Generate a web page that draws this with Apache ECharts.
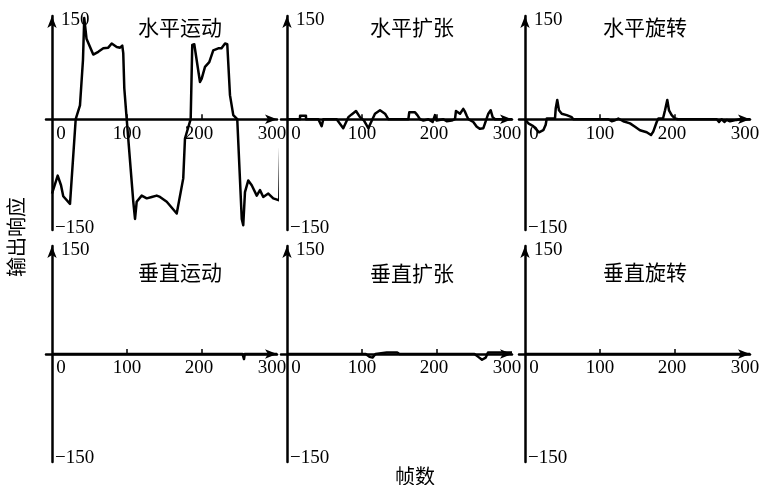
<!DOCTYPE html>
<html>
<head>
<meta charset="utf-8">
<script src="https://cdn.jsdelivr.net/npm/echarts@6/dist/echarts.min.js"></script>
<style>
html,body{margin:0;padding:0;background:#fff;}
#chart{width:772px;height:485px;}
</style>
</head>
<body>
<div id="chart"></div>
<script>
// Panel titles (row-major: top row horizontal, bottom row vertical)
const panelTitles = ['水平运动', '水平扩张', '水平旋转', '垂直运动', '垂直扩张', '垂直旋转'];
const yAxisName = '输出响应';
const xAxisName = '帧数';
const xTickLabels = [0, 100, 200, 300];
const xTickMarks = [100, 200];
const yTickLabels = [-150, 150];

// 水平运动
const hMoveFrames = [0, 7.6, 12, 15, 24, 31.6, 37.3, 41.3, 43, 46, 55, 61.7, 68.4, 75, 79.6, 86.3, 90.7, 93.7, 95, 96.4, 99.6,
  108.4, 110.7, 112.9, 119.6, 126.3, 133, 139.6, 144, 153, 166.3, 175, 177.3, 184.9, 187, 189.7, 197.3, 199.6, 204, 209.7,
  215, 221.7, 226, 230.7, 233.7, 237.3, 241.7, 247, 253, 255, 257.3, 261.7, 266.3, 273, 277.3, 281.7, 288.4, 295, 303, 305, 305];
const hMoveValues = [-108, -82, -96, -112, -123, 0, 20, 86, 147, 117, 94, 98, 103, 104, 110, 105, 104, 107, 96, 45, 0,
  -120, -145, -120, -111, -115, -113, -111, -113, -120, -137, -86, -28, 0, 108, 109, 54, 59, 76, 83,
  100, 103, 103, 110, 109, 35, 6, 0, -145, -154, -106, -89, -96, -111, -103, -113, -108, -115, -118, -118, 0];

// 水平扩张
const hExpandFrames = [0, 17.3, 17.4, 25.3, 25.4, 41.8, 46.2, 48.4, 66.2, 75, 81.8, 86.2, 92, 97.3, 102.7, 108.4, 117.3, 124, 130.7, 135,
  161.8, 163, 170.7, 173.8, 177.3, 181.8, 188.4, 194.2, 197.3, 199.6, 208.4, 212.9, 219.6, 224, 225.3, 230.7, 235, 237.3, 239.6, 241.8,
  248.4, 253, 257.3, 261.8, 264, 268.4, 271.6, 274.2, 277.3, 300];
const hExpandValues = [0, 0, 5, 5, 0, 0, -10, 0, 0, -13, 3, 7, 12, 3, -2, -13, 8, 13, 8, 0,
  0, 10, 10, 6, 0, -2, 0, -4, 6, -2, 0, -3, -2, 0, 12, 8, 15, 11, 5, 0,
  -4, -11, -14, -13, -6, 8, 13, 3, 0, 0];

// 水平旋转
const hRotateFrames = [0, 4.4, 11, 18.7, 24.4, 27.6, 29, 40, 41, 43, 45.3, 49, 55.6, 62.3, 64.4, 111, 115.6, 120, 124.4, 131,
  140, 146.7, 153.3, 162.3, 168, 171, 175.6, 177.8, 184, 186.7, 189.7, 192, 195.6, 200, 204, 255.6, 258.7, 262, 265.8, 269,
  273.3, 277.8, 282, 286.7, 300];
const hRotateValues = [0, -6, -10, -19, -16, -8, 1, 1, 16, 28, 13, 8, 6, 3, 0, 0, -3, -1.5, 1, -3,
  -6, -11, -16, -19, -23, -18, -4, 1, 1, 13, 28, 13, 6, 1, 0, 0, -4, 0, -4, -1,
  -3, -2, -1, 0, 0];

// 垂直运动
const vMoveFrames = [0, 254, 256, 257, 300];
const vMoveValues = [0, 0, -7, 0, 0];

// 垂直扩张
const vExpandFrames = [0, 105, 110, 114, 118, 133, 147, 150, 250, 255, 260, 265, 268, 300];
const vExpandValues = [0, 0, -4, -5, 0, 2, 2, 0, 0, -4, -8, -5, 2, 2];

// 垂直旋转
const vRotateFrames = [0, 300];
const vRotateValues = [0, 0];

const framesList = [hMoveFrames, hExpandFrames, hRotateFrames, vMoveFrames, vExpandFrames, vRotateFrames];
const valuesList = [hMoveValues, hExpandValues, hRotateValues, vMoveValues, vExpandValues, vRotateValues];

// Layout: y-axis x positions per column, grid frames per row
const axisX = [52, 287, 525];
const pxPerFrame = 0.75;
const xMin = -8, xMax = 300, yMax = 150;
const rows = [
  { top: 16, height: 214, min: -161, labelPadTop: [8, 0, 0, 6], labelPadBottom: [11, 0, 0, 0] },
  { top: 246, height: 216, min: -150, labelPadTop: [8, 0, 0, 6], labelPadBottom: [0, 0, 8, 0] }
];

const serif = '"Liberation Serif", "Times New Roman", serif';
const cjk = '"Noto Sans CJK SC", sans-serif';

const grids = [], xAxes = [], yAxes = [], series = [], graphics = [];

for (let i = 0; i < 6; i++) {
  const col = i % 3, row = Math.floor(i / 3);
  const r = rows[row];
  // distance from grid bottom up to the value-0 line, and from grid left to frame 0
  const zeroFromBottom = r.height * (0 - r.min) / (yMax - r.min);
  const zeroFromLeft = (0 - xMin) * pxPerFrame;
  grids.push({
    left: axisX[col] - zeroFromLeft,
    top: r.top,
    width: (xMax - xMin) * pxPerFrame,
    height: r.height,
    containLabel: false,
    outerBoundsMode: 'none'
  });
  xAxes.push({
    type: 'value', gridIndex: i, min: xMin, max: xMax, position: 'bottom', offset: -zeroFromBottom,
    splitLine: { show: false },
    axisLine: { onZero: false, lineStyle: { color: '#000', width: 2.5 }, symbol: ['none', 'arrow'], symbolSize: [7, 12] },
    axisTick: { show: true, customValues: xTickMarks, inside: true, length: 5, lineStyle: { color: '#000', width: 1.5 } },
    axisLabel: {
      customValues: xTickLabels, margin: 5, color: '#000', fontFamily: serif, fontSize: 19,
      formatter: v => v === 0 ? '{z|0}' : (v === 300 ? '{e|300}' : (v === 200 ? '{m|200}' : String(v))),
      rich: {
        z: { padding: [0, 0, 0, 18], fontFamily: serif, fontSize: 19, color: '#000' },
        m: { padding: [0, 6, 0, 0], fontFamily: serif, fontSize: 19, color: '#000' },
        e: { padding: [0, 10, 0, 0], fontFamily: serif, fontSize: 19, color: '#000' }
      }
    }
  });
  yAxes.push({
    type: 'value', gridIndex: i, min: r.min, max: yMax, position: 'left', offset: -zeroFromLeft,
    splitLine: { show: false },
    axisLine: { onZero: false, lineStyle: { color: '#000', width: 2.5 }, symbol: ['none', 'arrow'], symbolSize: [7, 12] },
    axisTick: { show: false },
    axisLabel: {
      customValues: yTickLabels, inside: true, margin: 3, color: '#000', fontFamily: serif, fontSize: 19,
      formatter: v => v > 0 ? '{t|' + v + '}' : '{b|\u2212' + Math.abs(v) + '}',
      rich: {
        t: { padding: r.labelPadTop, fontFamily: serif, fontSize: 19, color: '#000' },
        b: { padding: r.labelPadBottom, fontFamily: serif, fontSize: 19, color: '#000' }
      }
    }
  });
  series.push({
    type: 'line', xAxisIndex: i, yAxisIndex: i,
    data: framesList[i].map((f, k) => [f, valuesList[i][k]]),
    showSymbol: false, symbol: 'none', clip: false, animation: false,
    lineStyle: { color: '#000', width: 2.5, join: 'round' }
  });
}

// Panel captions
const titleCenters = [[180, 27], [412, 27], [645, 27], [180, 272], [412, 273], [645, 272]];
panelTitles.forEach((t, i) => {
  graphics.push({
    type: 'text', x: titleCenters[i][0], y: titleCenters[i][1],
    style: { text: t, fill: '#000', font: '21px ' + cjk, align: 'center', verticalAlign: 'middle' }
  });
});
// Shared axis names
graphics.push({
  type: 'text', x: 16, y: 237, rotation: Math.PI / 2,
  style: { text: yAxisName, fill: '#000', font: '20px ' + cjk, align: 'center', verticalAlign: 'middle' }
});
graphics.push({
  type: 'text', x: 415, y: 476,
  style: { text: xAxisName, fill: '#000', font: '20px ' + cjk, align: 'center', verticalAlign: 'middle' }
});

const chart = echarts.init(document.getElementById('chart'), null, { renderer: 'canvas' });
chart.setOption({
  backgroundColor: '#fff',
  animation: false,
  grid: grids,
  xAxis: xAxes,
  yAxis: yAxes,
  series: series,
  graphic: graphics
});
</script>
</body>
</html>
